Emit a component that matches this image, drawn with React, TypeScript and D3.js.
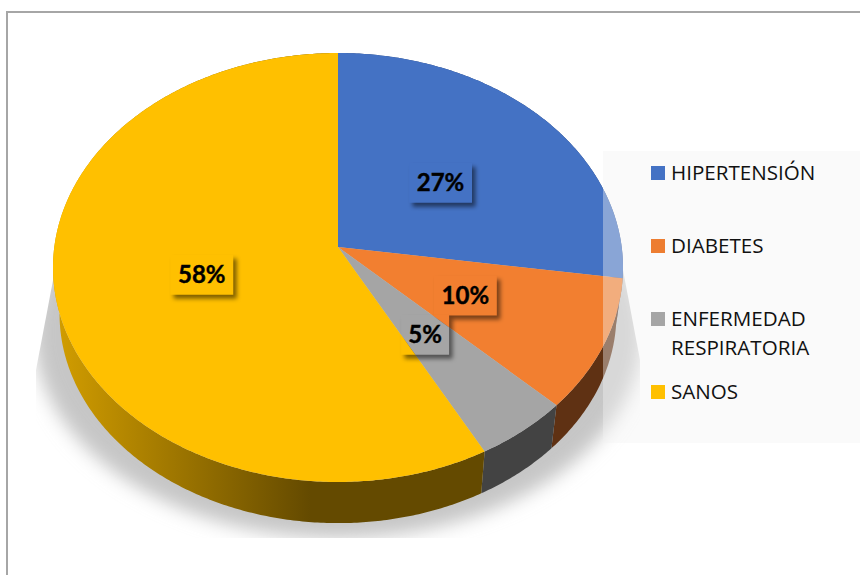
import React from "react";
import * as d3 from "d3";

// Shares of the study population
const categories = ["HIPERTENSIÓN", "DIABETES", "ENFERMEDAD RESPIRATORIA", "SANOS"];
const values = [27, 10, 5, 58];
const topColors = ["#4472c4", "#f27f30", "#a5a5a5", "#ffc000"];
const wallColors = ["#2a4478", "#5f3113", "#434343", "url(#sanosWall)"];
const legendColors = ["#4472c4", "#ed7d31", "#a5a5a5", "#ffc000"];
const legendLines = [["HIPERTENSIÓN"], ["DIABETES"], ["ENFERMEDAD", "RESPIRATORIA"], ["SANOS"]];

const W = 860;
const H = 575;

// Perspective disc: unit circle (X, Y) mapped with a projective divide
const cx = 338;
const apexY = 247;
const kx = 283.7;
const ky = 188.9;
const persp = -0.0956;
const rimCy = 267.5;
const skew = 0.02;

type Pt = [number, number];
const project = (angle: number, f = 1): Pt => {
  // Small angular skew: the right side of the disc sits a little lower than the left
  const theta = angle + skew * Math.max(0, Math.sin(angle));
  const X = f * Math.sin(theta);
  const Y = -f * Math.cos(theta);
  const w = 1 + persp * Y;
  return [cx + (kx * X) / w, (apexY + ky * Y) / w];
};
// Lower rim of the disc, slightly smaller than the top face
const lower = ([x, y]: Pt): Pt => [cx + (x - cx) * 0.977, 314 + (y - rimCy) * 0.975];

const line = d3.line<Pt>();
const arcPoints = (a0: number, a1: number): Pt[] => {
  const n = Math.max(2, Math.ceil((a1 - a0) / 0.01));
  return d3.range(n + 1).map((i) => project(a0 + ((a1 - a0) * i) / n));
};

const slices = d3.pie<number>().sort(null).value((d) => d)(values);

const topPath = (a0: number, a1: number) =>
  line([[cx, apexY], ...arcPoints(a0, a1)])! + "Z";
const wallPath = (a0: number, a1: number) => {
  const rim = arcPoints(a0, a1);
  return line([...rim, ...rim.slice().reverse().map(lower)])! + "Z";
};

const shadowEllipse = d3
  .range(0, 361, 2)
  .map((deg): Pt => [
    cx + 304 * Math.cos((deg * Math.PI) / 180),
    333 + 205 * Math.sin((deg * Math.PI) / 180),
  ]);

const LABEL_H = 40;
const labelWidth = (v: number) => (v >= 10 ? 63 : 48);
const legendY = [166, 239, 312, 385];

export default function App() {
  const labels = slices.map((s) => {
    const [x, y] = project((s.startAngle + s.endAngle) / 2, 0.49);
    return { x, y: y + 1.5, w: labelWidth(s.value), text: `${s.value}%` };
  });

  const topFaces = slices.map((s, i) => (
    <path key={i} d={topPath(s.startAngle, s.endAngle)} fill={topColors[i]} />
  ));

  return (
    <svg
      width={W}
      height={H}
      viewBox={`0 0 ${W} ${H}`}
      style={{ position: "absolute", left: 0, top: 0, display: "block" }}
    >
      <defs>
        <filter id="softShadow" x="-20%" y="-20%" width="140%" height="140%">
          <feGaussianBlur stdDeviation="9" />
        </filter>
        <filter id="labelShadow" x="-30%" y="-40%" width="160%" height="180%">
          <feGaussianBlur stdDeviation="2.2" />
        </filter>
        <clipPath id="shadowBounds">
          <polygon points="72,180 36,370 36,538 640,538 640,360 606,180" />
        </clipPath>
        <linearGradient id="sanosWall" gradientUnits="userSpaceOnUse" x1="60" x2="310" y1="0" y2="0">
          <stop offset="0" stopColor="#d09c00" />
          <stop offset="1" stopColor="#644a00" />
        </linearGradient>
        {labels.map((l, i) => (
          <clipPath id={`labelBox${i}`} key={i}>
            <rect x={l.x - l.w / 2} y={l.y - LABEL_H / 2} width={l.w} height={LABEL_H} />
          </clipPath>
        ))}
      </defs>

      <rect width={W} height={H} fill="#ffffff" />
      <path d={`M7 ${H}V12H${W}`} fill="none" stroke="#a6a6a6" strokeWidth={2} />

      <g clipPath="url(#shadowBounds)">
        <path d={line(shadowEllipse)! + "Z"} fill="#c6c6c6" filter="url(#softShadow)" />
      </g>

      {slices.map((s, i) => (
        <path key={i} d={wallPath(s.startAngle, s.endAngle)} fill={wallColors[i]} />
      ))}
      {topFaces}

      {labels.map((l, i) => (
        <g key={i}>
          <rect
            x={l.x - l.w / 2 + 3.5}
            y={l.y - LABEL_H / 2 + 4}
            width={l.w}
            height={LABEL_H}
            fill="#000000"
            fillOpacity={0.5}
            filter="url(#labelShadow)"
          />
          <g clipPath={`url(#labelBox${i})`}>{topFaces}</g>
        </g>
      ))}
      {labels.map((l, i) => (
        <text
          key={i}
          x={l.x}
          y={l.y + 8.5}
          textAnchor="middle"
          fontFamily="Lato, 'Open Sans', sans-serif"
          fontWeight={700}
          fontSize={24}
          fill="#000000"
          stroke="#000000"
          strokeWidth={0.4}
        >
          {l.text}
        </text>
      ))}

      <rect x={603} y={151} width={257} height={292} fill="#f2f2f2" fillOpacity={0.4} />
      {categories.map((c, i) => (
        <g key={c}>
          <rect x={651} y={legendY[i]} width={14} height={14} fill={legendColors[i]} />
          {legendLines[i].map((t, j) => (
            <text
              key={t}
              x={671}
              y={legendY[i] + 14 + j * 29}
              fontFamily="'Open Sans', sans-serif"
              fontSize={20.6}
              fill="#111111"
            >
              {t}
            </text>
          ))}
        </g>
      ))}
    </svg>
  );
}
